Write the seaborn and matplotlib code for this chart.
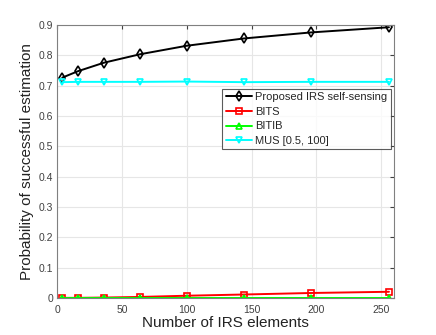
import numpy as np
import pandas as pd
import matplotlib
matplotlib.use("Agg")
import matplotlib.pyplot as plt
import seaborn as sns

# ── Data ──────────────────────────────────────────────────────────────────
n_elements = [4, 16, 36, 64, 100, 144, 196, 256]
proposed = [0.727, 0.748, 0.776, 0.804, 0.832, 0.856, 0.876, 0.893]
bits = [0.001, 0.001, 0.002, 0.004, 0.008, 0.012, 0.017, 0.021]
bitib = [0.0, 0.0, 0.0, 0.0, 0.0, 0.0, 0.0, 0.0]
mus = [0.712, 0.713, 0.713, 0.713, 0.714, 0.712, 0.713, 0.713]

series = [
    ("Proposed IRS self-sensing", proposed, "black", "d"),
    ("BITS", bits, "#ff0000", "s"),
    ("BITIB", bitib, "#00ff00", "^"),
    ("MUS [0.5, 100]", mus, "#00ffff", "v"),
]

sns.set_style("whitegrid")
plt.rcParams["font.family"] = ["Liberation Sans", "DejaVu Sans"]

fig = plt.figure(figsize=(4.36, 3.35), dpi=100)
ax = fig.add_axes([0.131, 0.110, 0.773, 0.815])

for name, vals, color, mk in series:
    sns.lineplot(x=n_elements, y=vals, ax=ax, color=color, marker=mk,
                 markersize=5, markerfacecolor="none", markeredgecolor=color,
                 markeredgewidth=1.2, linewidth=1.4, label=name)

ax.set_xlim(0, 260)
ax.set_ylim(0, 0.9)
ax.set_xticks([0, 50, 100, 150, 200, 250])
ax.set_yticks(np.arange(0, 0.91, 0.1))
ax.set_yticklabels(["0", "0.1", "0.2", "0.3", "0.4", "0.5", "0.6", "0.7", "0.8", "0.9"])
ax.grid(True, color="#e6e6e6", linewidth=0.8)
for side in ["left", "right", "top", "bottom"]:
    ax.spines[side].set_visible(True)
    ax.spines[side].set_color("#808080")
    ax.spines[side].set_linewidth(0.8)
ax.tick_params(axis="both", labelsize=7.5, colors="#404040", direction="in", length=3,
               pad=3, right=True, top=True)
ax.tick_params(axis="x", pad=5)
ax.set_xlabel("Number of IRS elements", fontsize=11, color="#222222", labelpad=1)
ax.set_ylabel("Probability of successful estimation", fontsize=11, color="#222222", labelpad=3)

leg = ax.legend(loc="upper right", bbox_to_anchor=(0.896, 0.735), bbox_transform=fig.transFigure,
                fontsize=8, frameon=True, fancybox=False, borderpad=0.3,
                labelspacing=0.42, handlelength=2.4, handletextpad=0.25, borderaxespad=0)
leg.get_frame().set_edgecolor("#333333")
leg.get_frame().set_linewidth(0.8)

fig.savefig("out.png", dpi=100)
